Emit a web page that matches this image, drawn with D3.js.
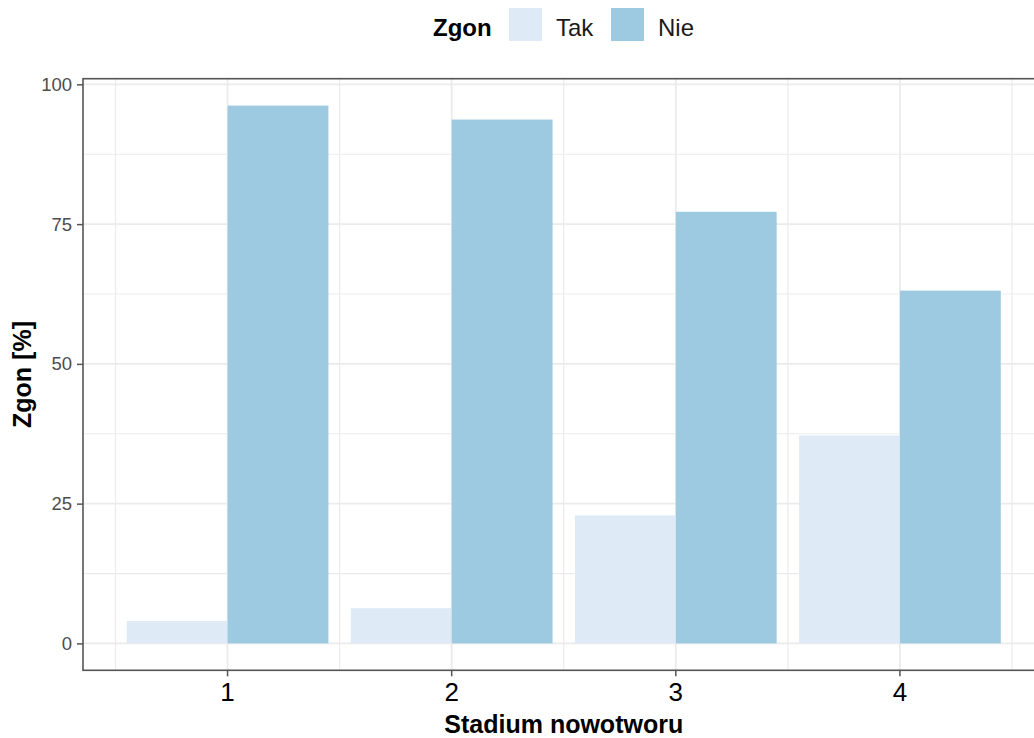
<!DOCTYPE html>
<html>
<head>
<meta charset="utf-8">
<script src="https://cdn.jsdelivr.net/npm/d3@7"></script>
<style>
  html, body { margin: 0; padding: 0; background: #fff; }
  svg { display: block; font-family: "Liberation Sans", Arial, sans-serif; }
</style>
</head>
<body>
<svg id="chart" width="1034" height="738"></svg>
<script>
// ---- data ----
const stages = ["1", "2", "3", "4"];
const groups = ["Tak", "Nie"];
const takValues = [4.0, 6.3, 22.9, 37.2];
const nieValues = [96.2, 93.7, 77.2, 63.1];
const yTicks = [0, 25, 50, 75, 100];
const yMinorTicks = [12.5, 37.5, 62.5, 87.5];
const colors = ["#DEEBF7", "#9ECAE1"];
const legendTitle = "Zgon";
const xTitle = "Stadium nowotworu";
const yTitle = "Zgon [%]";

const rows = stages.map((s, i) => ({ stage: s, Tak: takValues[i], Nie: nieValues[i] }));

// ---- layout ----
const svg = d3.select("#chart");
const panel = { left: 83, right: 1044.5, top: 78.7, bottom: 670.3 };

const x = d3.scaleBand()
  .domain(stages)
  .range([panel.left, panel.right])
  .paddingInner(0.1)
  .paddingOuter(0.195);
const xInner = d3.scaleBand().domain(groups).range([0, x.bandwidth()]).padding(0);
const y = d3.scaleLinear().domain([-4.81, 101.01]).range([panel.bottom, panel.top]);
const color = d3.scaleOrdinal().domain(groups).range(colors);

const step = x.step();
const gridCol = "#EBEBEB";

svg.append("rect").attr("x", panel.left).attr("y", panel.top)
  .attr("width", panel.right - panel.left).attr("height", panel.bottom - panel.top)
  .attr("fill", "#fff");

const grid = svg.append("g");
grid.selectAll(".ymin").data(yMinorTicks).join("line")
  .attr("x1", panel.left).attr("x2", panel.right)
  .attr("y1", d => y(d)).attr("y2", d => y(d))
  .attr("stroke", gridCol).attr("stroke-width", 1.2);
grid.selectAll(".ymaj").data(yTicks).join("line")
  .attr("x1", panel.left).attr("x2", panel.right)
  .attr("y1", d => y(d)).attr("y2", d => y(d))
  .attr("stroke", gridCol).attr("stroke-width", 1.8);
const xMinor = stages.map(s => x(s) + x.bandwidth() / 2 - step / 2)
  .concat([x(stages[stages.length - 1]) + x.bandwidth() / 2 + step / 2]);
grid.selectAll(".xmin").data(xMinor).join("line")
  .attr("x1", d => d).attr("x2", d => d)
  .attr("y1", panel.top).attr("y2", panel.bottom)
  .attr("stroke", gridCol).attr("stroke-width", 1.2);
grid.selectAll(".xmaj").data(stages).join("line")
  .attr("x1", d => x(d) + x.bandwidth() / 2).attr("x2", d => x(d) + x.bandwidth() / 2)
  .attr("y1", panel.top).attr("y2", panel.bottom)
  .attr("stroke", gridCol).attr("stroke-width", 1.8);

// bars
const barsG = svg.append("g");
rows.forEach(r => {
  barsG.selectAll(null).data(groups).join("rect")
    .attr("x", g => x(r.stage) + xInner(g))
    .attr("width", xInner.bandwidth())
    .attr("y", g => y(r[g]))
    .attr("height", g => y(0) - y(r[g]))
    .attr("fill", g => color(g));
});

// panel border
svg.append("rect").attr("x", panel.left).attr("y", panel.top)
  .attr("width", panel.right - panel.left).attr("height", panel.bottom - panel.top)
  .attr("fill", "none").attr("stroke", "#555").attr("stroke-width", 1.6);

// axes
const yAxis = svg.append("g").attr("transform", `translate(${panel.left},0)`)
  .call(d3.axisLeft(y).tickValues(yTicks).tickSize(6).tickPadding(5).tickFormat(d3.format("d")));
yAxis.select(".domain").remove();
yAxis.selectAll(".tick line").attr("stroke", "#555").attr("stroke-width", 1.5);
yAxis.selectAll(".tick text").attr("fill", "#4D4D4D").style("font-size", "18.5px")
  .style("font-family", "Liberation Sans, Arial, sans-serif");

const xAxis = svg.append("g").attr("transform", `translate(0,${panel.bottom})`)
  .call(d3.axisBottom(x).tickSize(6).tickPadding(6));
xAxis.select(".domain").remove();
xAxis.selectAll(".tick line").attr("stroke", "#555").attr("stroke-width", 1.5);
xAxis.selectAll(".tick text").attr("fill", "#000").style("font-size", "26px")
  .style("font-family", "Liberation Sans, Arial, sans-serif");

// axis titles
svg.append("text").attr("x", (panel.left + panel.right) / 2).attr("y", 733)
  .attr("text-anchor", "middle").attr("font-weight", "bold").attr("font-size", 25)
  .attr("fill", "#000").text(xTitle);
svg.append("text")
  .attr("transform", `translate(31,${(panel.top + panel.bottom) / 2}) rotate(-90)`)
  .attr("text-anchor", "middle").attr("font-weight", "bold").attr("font-size", 25)
  .attr("fill", "#000").text(yTitle);

// legend
const leg = svg.append("g");
leg.append("text").attr("x", 433).attr("y", 36).attr("font-weight", "bold")
  .attr("font-size", 24).attr("fill", "#000").text(legendTitle);
const keyX = [509, 611];
const labX = [556, 658];
groups.forEach((g, i) => {
  leg.append("rect").attr("x", keyX[i]).attr("y", 8).attr("width", 33).attr("height", 33)
    .attr("fill", color(g));
  leg.append("text").attr("x", labX[i]).attr("y", 36).attr("font-size", 24)
    .attr("fill", "#1a1a1a").text(g);
});
</script>
</body>
</html>
